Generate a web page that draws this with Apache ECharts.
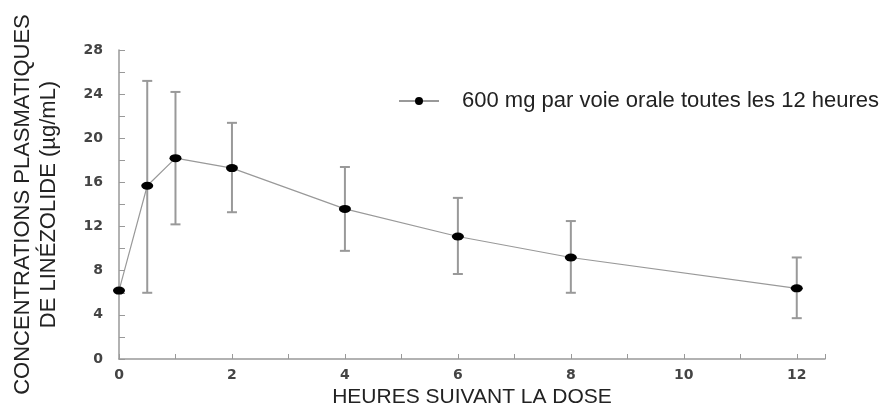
<!doctype html>
<html>
<head>
<meta charset="utf-8"/>
<title>linezolide</title>
<script src="https://cdn.jsdelivr.net/npm/echarts@6/dist/echarts.min.js"></script>
<style>
*{margin:0;padding:0;}
body{background:#fff;}
#main{width:881px;height:408px;}
</style>
</head>
<body>
<div id="main"></div>
<script type="text/javascript">
// heures apres la dose
var hours = [0, 0.5, 1, 2, 4, 6, 8, 12];
// concentration moyenne (ug/mL)
var means = [6.2, 15.7, 18.2, 17.3, 13.6, 11.1, 9.2, 6.4];
// bornes basses / hautes des barres d'erreur
var lows  = [null, 6.0, 12.2, 13.3, 9.8, 7.7, 6.0, 3.7];
var highs = [null, 25.2, 24.2, 21.4, 17.4, 14.6, 12.5, 9.2];
var xTicks = [0, 2, 4, 6, 8, 10, 12];
var seriesName = '600 mg par voie orale toutes les 12 heures';

var chart = echarts.init(document.getElementById('main'));

var lineData = hours.map(function (h, i) { return [h, means[i]]; });
var errData = [];
hours.forEach(function (h, i) {
  if (lows[i] != null) errData.push([h, lows[i], highs[i]]);
});

var tickFont = {color: '#444', fontSize: 14, fontWeight: 'bold', fontFamily: 'DejaVu Sans'};

var option = {
  animation: false,
  grid: {left: 119, right: 56, top: 50, bottom: 49, outerBoundsMode: 'none', containLabel: false},
  legend: {
    left: 393, top: 85,
    itemWidth: 40, itemHeight: 10, itemGap: 10,
    textStyle: {fontSize: 22, color: '#222', fontFamily: 'Liberation Sans', padding: [0, 0, 0, 18]},
    data: [seriesName]
  },
  xAxis: {
    type: 'value', min: 0, max: 12.5, interval: 2,
    name: 'HEURES SUIVANT LA DOSE', nameLocation: 'middle', nameGap: 27,
    nameTextStyle: {fontSize: 21, color: '#222', fontFamily: 'Liberation Sans'},
    axisLine: {lineStyle: {color: '#999', width: 1.5}},
    axisTick: {inside: true, length: 5, lineStyle: {color: '#999'}},
    minorTick: {show: true, splitNumber: 2, length: 5, lineStyle: {color: '#999'}},
    axisLabel: Object.assign({margin: 9, formatter: function (v) {
      return xTicks.indexOf(v) >= 0 ? String(v) : '';
    }}, tickFont),
    splitLine: {show: false}
  },
  yAxis: {
    type: 'value', min: 0, max: 28, interval: 4,
    name: 'CONCENTRATIONS PLASMATIQUES\nDE LINÉZOLIDE (µg/mL)', nameLocation: 'middle', nameGap: 57,
    nameTextStyle: {fontSize: 22, lineHeight: 26, color: '#222', fontFamily: 'Liberation Sans'},
    axisLine: {show: true, lineStyle: {color: '#999', width: 1.5}},
    axisTick: {show: true, inside: true, length: 6, lineStyle: {color: '#999'}},
    minorTick: {show: true, splitNumber: 2, length: 6, lineStyle: {color: '#999'}},
    axisLabel: Object.assign({margin: 16}, tickFont),
    splitLine: {show: false}
  },
  series: [
    {
      name: seriesName,
      type: 'line',
      data: lineData,
      symbol: 'circle',
      symbolSize: [12, 8],
      z: 3,
      itemStyle: {color: '#000'},
      lineStyle: {color: '#999', width: 1.2}
    },
    {
      type: 'custom',
      data: errData,
      z: 2,
      renderItem: function (params, api) {
        var top = api.coord([api.value(0), api.value(2)]);
        var bot = api.coord([api.value(0), api.value(1)]);
        var w = 5;
        var st = {stroke: '#999', lineWidth: 2};
        return {
          type: 'group',
          children: [
            {type: 'line', shape: {x1: top[0], y1: top[1], x2: bot[0], y2: bot[1]}, style: st},
            {type: 'line', shape: {x1: top[0] - w, y1: top[1], x2: top[0] + w, y2: top[1]}, style: st},
            {type: 'line', shape: {x1: bot[0] - w, y1: bot[1], x2: bot[0] + w, y2: bot[1]}, style: st}
          ]
        };
      }
    }
  ]
};
chart.setOption(option);
</script>
</body>
</html>
